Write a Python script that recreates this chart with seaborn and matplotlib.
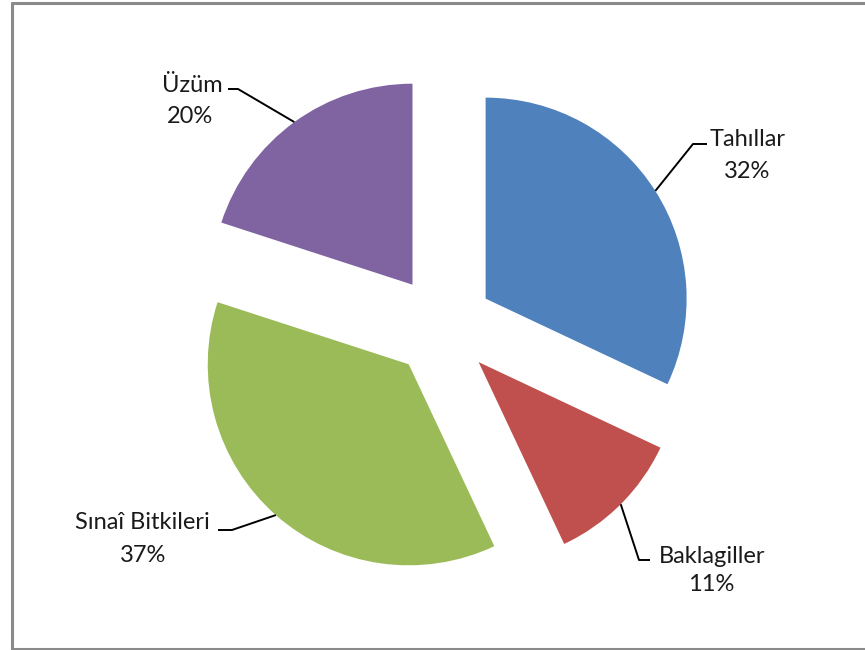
import matplotlib
matplotlib.use("Agg")
import matplotlib.pyplot as plt
from matplotlib.lines import Line2D
import seaborn as sns
import numpy as np

# data
categories = ["Tahıllar", "Baklagiller", "Sınaî Bitkileri", "Üzüm"]
values = [32, 11, 37, 20]
colors = ["#4F81BD", "#C0504D", "#9BBB59", "#8064A2"]

# label layout in pixel space (name baseline centre, leader end, leader elbow)
name_pos = [(748, 146), (712, 563), (142, 529), (192, 92)]
pct_pos = [(747, 178), (711, 591), (143, 562), (190, 123)]
leader_end = [(707, 144), (650, 560), (218, 530), (228, 89)]
leader_elbow = [(693, 144), (639, 560), (232, 530), (238, 89)]

W, H = 865, 650
CX, CY, R = 442.5, 326, 201
explode = 0.254


def to_data(p):
    return ((p[0] - CX) / R, (CY - p[1]) / R)


sns.set_theme(style="white")
plt.rcParams["font.family"] = ["Lato", "DejaVu Sans"]

fig = plt.figure(figsize=(W / 100, H / 100), dpi=100)
ax = fig.add_axes([0, 0, 1, 1])

wedges, _ = ax.pie(values, colors=sns.color_palette(colors), startangle=90,
                   counterclock=False, explode=[explode] * len(values),
                   radius=1, wedgeprops=dict(linewidth=0))

ax.set_xlim(-CX / R, (W - CX) / R)
ax.set_ylim(-(H - CY) / R, CY / R)
ax.set_aspect("equal", adjustable="box")
ax.axis("off")

txt_color = "#1a1a1a"
for i, w in enumerate(wedges):
    mid = np.deg2rad((w.theta1 + w.theta2) / 2)
    anchor = ((1 + explode) * np.cos(mid), (1 + explode) * np.sin(mid))
    e = to_data(leader_end[i])
    b = to_data(leader_elbow[i])
    ax.plot([anchor[0], b[0], e[0]], [anchor[1], b[1], e[1]],
            color="black", lw=1.4, solid_capstyle="butt")
    nx, ny = to_data(name_pos[i])
    ax.text(nx, ny, categories[i], ha="center", va="baseline",
            fontsize=17, color=txt_color)
    px, py = to_data(pct_pos[i])
    ax.text(px, py, f"{values[i]:.0f}%", ha="center", va="baseline",
            fontsize=17, color=txt_color)

# chart-area border (left, top, bottom)
bc = "#8a8a8a"
lw = 2.2
fig.add_artist(Line2D([11.5 / W, 11.5 / W], [1 - 2.5 / H, 1 - 648.5 / H],
                      color=bc, lw=lw, transform=fig.transFigure))
fig.add_artist(Line2D([11.5 / W, 1], [1 - 2.5 / H, 1 - 2.5 / H],
                      color=bc, lw=lw, transform=fig.transFigure))
fig.add_artist(Line2D([11.5 / W, 1], [1 - 648.5 / H, 1 - 648.5 / H],
                      color=bc, lw=lw, transform=fig.transFigure))

plt.savefig("out.png", dpi=100, facecolor="white")
